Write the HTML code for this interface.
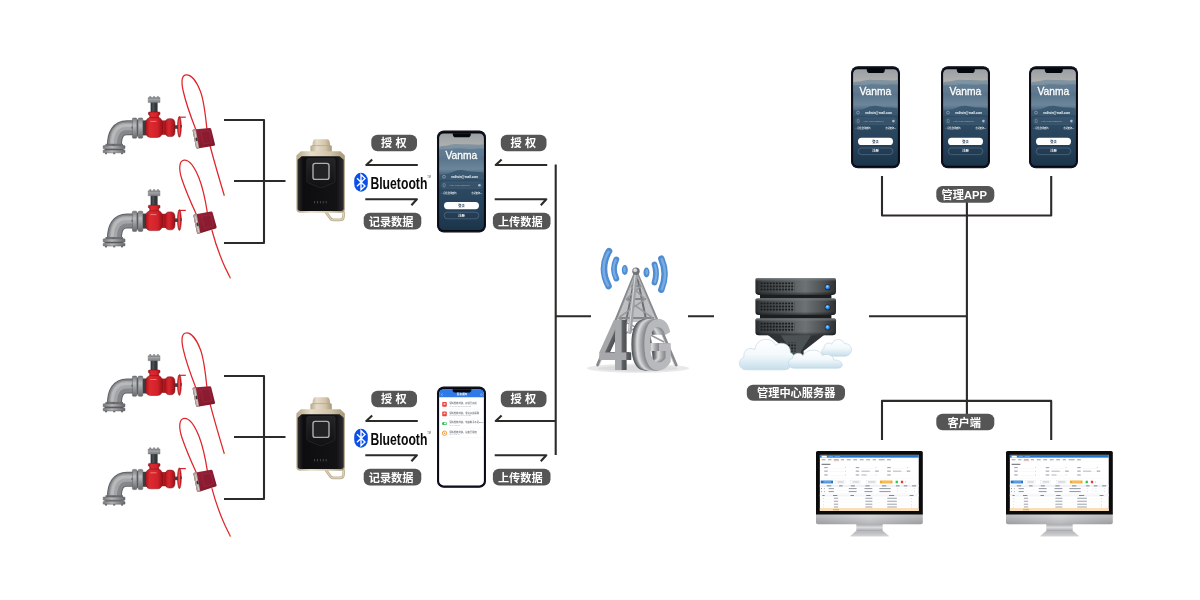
<!DOCTYPE html>
<html lang="zh-CN">
<head>
<meta charset="utf-8">
<title>系统拓扑</title>
<style>
html,body{margin:0;padding:0;background:#fff;}
body{width:1200px;height:600px;overflow:hidden;position:relative;font-family:"Liberation Sans","Noto Sans CJK SC",sans-serif;}
svg{position:absolute;left:0;top:0;display:block;will-change:transform;}
.ln{stroke:#2c2b28;stroke-width:2.1;fill:none;stroke-linejoin:round;}
.bg{fill:#555555;}
.bt{fill:#ffffff;font-family:"Liberation Sans","Noto Sans CJK SC",sans-serif;font-weight:700;font-size:11.2px;text-anchor:middle;}
</style>
</head>
<body>
<svg width="1200" height="600" viewBox="0 0 1200 600">
<defs>

<linearGradient id="gGreyV" x1="0" y1="0" x2="0" y2="1"><stop offset="0" stop-color="#77797c"/><stop offset=".35" stop-color="#b9bbbd"/><stop offset="1" stop-color="#66686b"/></linearGradient>
<linearGradient id="gGreyH" x1="0" y1="0" x2="1" y2="0"><stop offset="0" stop-color="#77797c"/><stop offset=".4" stop-color="#b4b6b8"/><stop offset="1" stop-color="#66686b"/></linearGradient>
<linearGradient id="gRedH" x1="0" y1="0" x2="1" y2="0"><stop offset="0" stop-color="#a3141a"/><stop offset=".25" stop-color="#dc2a30"/><stop offset=".7" stop-color="#d3222a"/><stop offset="1" stop-color="#9a1217"/></linearGradient>
<linearGradient id="gRedH2" x1="0" y1="0" x2="1" y2="0"><stop offset="0" stop-color="#b2181e"/><stop offset=".4" stop-color="#da272e"/><stop offset="1" stop-color="#96111a"/></linearGradient>

<!-- pipe + valve (coords are those of the first instance) -->
<g id="pipe">
  <!-- elbow -->
  <path d="M133 127.8H127Q114.4 127.8 114.4 146" fill="none" stroke="#5f6164" stroke-width="15"/>
  <path d="M133 127.8H127Q114.4 127.8 114.4 146" fill="none" stroke="#85878a" stroke-width="13"/>
  <path d="M133 126.6H126.5Q113.2 126.6 113.2 146" fill="none" stroke="#a3a5a8" stroke-width="7.5"/>
  <path d="M133 125.6H126Q112.2 125.6 112.2 146" fill="none" stroke="#b7b9bb" stroke-width="3"/>
  <!-- bottom flange -->
  <rect x="105.5" y="143.8" width="17.5" height="2.4" fill="#6c6e71"/>
  <rect x="103.2" y="145.6" width="21.8" height="3.2" rx=".6" fill="url(#gGreyH)" stroke="#5d5f62" stroke-width=".5"/>
  <rect x="104.6" y="148.8" width="19" height="1.4" fill="#5a5c5f"/>
  <rect x="103.2" y="150" width="21.8" height="2.8" rx=".6" fill="url(#gGreyH)" stroke="#5d5f62" stroke-width=".5"/>
  <rect x="105" y="152.6" width="2" height="1.6" fill="#6a6c6f"/><rect x="113.2" y="152.6" width="2" height="1.6" fill="#6a6c6f"/><rect x="121" y="152.6" width="2" height="1.6" fill="#6a6c6f"/>
  <rect x="112.8" y="144.4" width="1.2" height="1.4" fill="#5d5f62"/>
  <!-- side flange -->
  <rect x="132.4" y="118" width="4.4" height="20.2" rx="1" fill="url(#gGreyV)" stroke="#5d5f62" stroke-width=".5"/>
  <rect x="136.8" y="119.5" width="1.4" height="17" fill="#5a5c5f"/>
  <rect x="138.2" y="118" width="4.6" height="20.2" rx="1" fill="url(#gGreyV)" stroke="#5d5f62" stroke-width=".5"/>
  <rect x="131.4" y="126.6" width="1.4" height="2" fill="#6a6c6f"/>
  <!-- dark gap -->
  <rect x="142.8" y="120.4" width="4" height="15" fill="#3b3f43"/>
  <!-- top cap + stem -->
  <rect x="150.6" y="102" width="7" height="11" fill="#33373b"/>
  <rect x="152.2" y="102" width="2.2" height="11" fill="#4a4f54"/>
  <path d="M148.2 102.6V97.6H149.6V96.4H151V97.6H153.4V96.4H154.8V97.6H157.2V96.4H158.6V97.6H160V102.6Z" fill="#8b8d90" stroke="#66686b" stroke-width=".4"/>
  <rect x="148.2" y="99.2" width="11.8" height="1" fill="#a9abad"/>
  <!-- red neck -->
  <path d="M148.4 112.8Q148.4 112 149.4 112H159Q160 112 160 112.8V114Q160 114.9 158.9 115.1Q158.4 116.6 158.9 118.4H149.6Q150.1 116.6 149.5 115.1Q148.4 114.9 148.4 114Z" fill="url(#gRedH)" stroke="#7f0d12" stroke-width=".5"/>
  <!-- waist -->
  <rect x="161.6" y="120.8" width="4.2" height="13.8" fill="#b5191f" stroke="#7f0d12" stroke-width=".4"/>
  <!-- red body -->
  <path d="M149.6 117.6H158.9C161.4 118.4 162.5 121 162.5 124.5V131C162.5 134.8 160.6 137.4 157.4 137.4H150.8C147.4 137.4 145.4 134.8 145.4 131V124.5C145.4 121 146.8 118.4 149.6 117.6Z" fill="url(#gRedH)" stroke="#7f0d12" stroke-width=".5"/>
  <path d="M150.4 121.4H156.4" stroke="#f3a0a2" stroke-width=".7" fill="none"/>
  <!-- second bulb -->
  <path d="M165 124C165 120.6 166.6 118.7 169 118.7H171.4C173.8 118.7 175 120.8 175 124V131.4C175 134.6 173.8 136.6 171.4 136.6H169C166.6 136.6 165 134.8 165 131.4Z" fill="url(#gRedH2)" stroke="#7f0d12" stroke-width=".5"/>
  <!-- stem to wheel -->
  <rect x="174.8" y="125.2" width="3.2" height="3.6" fill="#3b3f43"/>
  <!-- hand wheel -->
  <ellipse cx="179.4" cy="126.8" rx="1.95" ry="10.5" fill="#cf2027" stroke="#8e1015" stroke-width=".5"/>
  <ellipse cx="179.2" cy="126.8" rx=".8" ry="8.4" fill="#e9575b"/>
  <path d="M179.8 117.2H185.8" stroke="#d3222a" stroke-width="1.2" fill="none"/>
  <rect x="180.6" y="125" width="1.1" height="2.6" fill="#3b3f43"/>
</g>


<linearGradient id="gLock" x1="0" y1="0" x2="1" y2="1"><stop offset="0" stop-color="#9a2238"/><stop offset="1" stop-color="#7c1628"/></linearGradient>
<!-- seal A (first instance coords) -->
<g id="sealA">
  <path d="M196 130C192.5 121 186 104 183.2 91C180.8 80.5 182 75 186.3 74.8C191 74.6 196.5 81 200.5 91.5C203.5 99.5 205.6 116 206.9 129" fill="none" stroke="#e0242b" stroke-width="1.25" stroke-linecap="round"/>
  <path d="M210 145.5C213 157 219 178 224.2 195.2" fill="none" stroke="#e0242b" stroke-width="1.25" stroke-linecap="round"/>
  <path d="M223.9 194.2L224.4 195.8" stroke="#c9a227" stroke-width="1.1" fill="none"/>
  <path d="M192.6 130.6Q192.4 129.6 193.6 129.4L209.6 128Q210.9 127.9 211.2 129L215 144.2Q215.3 145.4 214 145.7L197.6 148.6Q196.3 148.8 196 147.6Z" fill="url(#gLock)"/>
  <path d="M192.6 130.6Q192.4 129.6 193.6 129.4L195.8 129.2L199.2 148.3L197.6 148.6Q196.3 148.8 196 147.6Z" fill="#a9a39c"/>
  <path d="M194.2 131.2L195.2 131.1L198 146.6L197 146.8Z" fill="#d8d4ce"/>
  <ellipse cx="196.6" cy="139.4" rx="1" ry="2" fill="#3b3535" transform="rotate(-10 196.6 139.4)"/>
  <path d="M201 131.6L209.2 130.8L212 142.6L203.4 144.2Z" fill="#8a1b31" stroke="#a3304a" stroke-width=".5"/>
</g>
<!-- seal B (second instance coords) -->
<g id="sealB">
  <path d="M196.6 215C192 205 185.5 190 181.8 179C178.6 169 179 161 184 160.2C189 159.6 194.5 167 199 178C202.5 187 205.4 200 207.4 213" fill="none" stroke="#e0242b" stroke-width="1.25" stroke-linecap="round"/>
  <path d="M212 230.5C214.5 240 219 254 225.3 267.9L230.2 277.8" fill="none" stroke="#e0242b" stroke-width="1.25" stroke-linecap="round"/>
  <path d="M229.6 276.6L230.4 278.2" stroke="#c9a227" stroke-width="1.1" fill="none"/>
  <path d="M193.4 215.8Q193.1 214.8 194.3 214.5L211 211.6Q212.2 211.4 212.6 212.6L216.6 226.8Q216.9 228 215.7 228.4L198.6 233.8Q197.4 234.1 197 233Z" fill="url(#gLock)"/>
  <path d="M193.4 215.8Q193.1 214.8 194.3 214.5L196.6 214.1L200.4 233.2L198.6 233.8Q197.4 234.1 197 233Z" fill="#a9a39c"/>
  <path d="M195 216.4L196 216.2L199.2 231.6L198.2 231.9Z" fill="#d8d4ce"/>
  <ellipse cx="197.6" cy="224.4" rx="1" ry="2" fill="#3b3535" transform="rotate(-12 197.6 224.4)"/>
  <path d="M202 216.4L210.6 214.8L213.6 225.8L204.6 228.6Z" fill="#8a1b31" stroke="#a3304a" stroke-width=".5"/>
</g>


<linearGradient id="gGold" x1="0" y1="0" x2="1" y2="0"><stop offset="0" stop-color="#b7a88c"/><stop offset=".3" stop-color="#e6dcc8"/><stop offset=".7" stop-color="#d2c4aa"/><stop offset="1" stop-color="#a89878"/></linearGradient>
<linearGradient id="gBlk" x1="0" y1="0" x2="1" y2="0"><stop offset="0" stop-color="#2c2c2e"/><stop offset=".12" stop-color="#0d0d0f"/><stop offset=".85" stop-color="#131315"/><stop offset="1" stop-color="#303033"/></linearGradient>
<linearGradient id="gBlkV" x1="0" y1="0" x2="0" y2="1"><stop offset="0" stop-color="#242427"/><stop offset="1" stop-color="#111113"/></linearGradient>
<!-- smart lock device (first instance coords) -->
<g id="dev">
  <path d="M325.6 211.6L330.4 218.4Q331.4 219.8 333.2 219.8H340.2Q343.2 219.8 343.5 216.8L343.8 211.6" fill="none" stroke="#bfb094" stroke-width="2.7" stroke-linejoin="round"/>
  <path d="M325.6 211.6L330.4 218.4Q331.4 219.8 333.2 219.8H340.2Q343.2 219.8 343.5 216.8L343.8 211.6" fill="none" stroke="#e2d8c4" stroke-width="1" stroke-linejoin="round"/>
  <path d="M312.6 145Q312.6 139.2 315.4 139.2H327Q330 139.2 330 145L331.8 146V152.4H310.4V146Z" fill="url(#gGold)"/>
  <path d="M312.4 145.6H330.2" stroke="#b3a385" stroke-width=".7" fill="none"/>
  <path d="M300.8 151.2H340.4L344.8 155.4V209Q344.8 212.8 341 212.8H300.2Q296.4 212.8 296.4 209V155.4Z" fill="url(#gGold)"/>
  <path d="M301.6 156.2H339.6L343.7 159.8V208.2Q343.7 210.9 341 210.9H300.4Q297.6 210.9 297.6 208.2V159.8Z" fill="url(#gBlk)"/>
  <path d="M306.8 160Q306.8 158.6 308.4 158.6H333.4Q335 158.6 335 160V180.6Q335 182.4 333 183.2L322.4 187.4Q320.9 187.9 319.4 187.4L308.8 183.2Q306.8 182.4 306.8 180.6Z" fill="url(#gBlkV)" stroke="#34343a" stroke-width=".5"/>
  <rect x="313" y="163.4" width="16" height="16" rx="2.2" fill="#232325" stroke="#aeaeb1" stroke-width="1.4"/>
  <path d="M314.6 201V203.4M317.5 201V203.4M320.4 201V203.4M323.3 201V203.4M326.2 201V203.4" stroke="#47474c" stroke-width="1" fill="none"/>
</g>


<g id="bt">
  <rect x="354.2" y="172.7" width="13.6" height="19" rx="6.8" ry="8" fill="#0a4fe8"/>
  <path d="M357 178.2L365 186L361 189.8V174.6L365 178.4L357 186.2" fill="none" stroke="#ffffff" stroke-width="1.35" stroke-linejoin="miter"/>
  <text transform="translate(370.4 188.6) scale(.706 1)" font-family="'Liberation Sans',sans-serif" font-weight="700" font-size="17.3" fill="#0a0a0a">Bluetooth</text>
  <text x="427.2" y="178.2" font-family="'Liberation Sans',sans-serif" font-size="2.6" fill="#555">TM</text>
</g>


<linearGradient id="gScr" x1="0" y1="0" x2="0" y2="1">
  <stop offset="0" stop-color="#9a9fa2"/><stop offset=".08" stop-color="#a6aaab"/><stop offset=".135" stop-color="#b1b1ad"/>
  <stop offset=".15" stop-color="#6f8698"/><stop offset=".26" stop-color="#5a758b"/><stop offset=".37" stop-color="#6c859a"/>
  <stop offset=".43" stop-color="#496780"/><stop offset=".47" stop-color="#385670"/><stop offset=".58" stop-color="#2c4961"/><stop offset=".78" stop-color="#25415a"/><stop offset="1" stop-color="#1b3449"/>
</linearGradient>
<clipPath id="cpScr"><rect x="2.1" y="3" width="44.8" height="96.6" rx="4.4"/></clipPath>
<!-- phone: login screen (origin = top-left of phone, 49 x 102) -->
<g id="phA">
  <rect x="0" y="0" width="49" height="102" rx="6.8" fill="#070a16"/>
  <rect x=".5" y=".5" width="48" height="101" rx="6.4" fill="#141b30"/>
  <rect x="1.2" y="1.4" width="46.6" height="99.4" rx="5.6" fill="#05070f"/>
  <rect x="2.1" y="3" width="44.8" height="96.6" rx="4.4" fill="url(#gScr)"/>
  <g clip-path="url(#cpScr)">
    <path d="M1 16.6C5 15.2 9 15.8 13 14.4C18 12.8 24 14.2 29 13.8C35 13.4 42 15.2 48 13.6V19H1Z" fill="#7b90a0" opacity=".9"/>
    <path d="M1 20C7 18 12 19.6 18 18.2C25 16.8 32 19.4 38 18.4C42 17.8 45 18.6 48 18.2V26H1Z" fill="#5f7a90" opacity=".75"/>
    <path d="M1 45C6 43.4 10 44 15 41.8C20 39.6 24 39 29 40.4C35 42 42 40.8 48 42.6V52H1Z" fill="#3a5871" opacity=".95"/>
    <path d="M1 50C10 48 18 51 26 49C34 47.4 41 50 48 48.6V58H1Z" fill="#2e4b64" opacity=".9"/>
  </g>
  <path d="M15.8 2.8H33.8V3.8Q33.8 6.9 30.8 6.9H18.8Q15.8 6.9 15.8 3.8Z" fill="#05070f"/>
  <text transform="translate(24.4 29) scale(.97 1)" text-anchor="middle" font-family="'Liberation Sans',sans-serif" font-size="10.6" fill="#ffffff" stroke="#ffffff" stroke-width=".28">Vanma</text>
  <circle cx="7" cy="46.4" r="1.4" fill="none" stroke="#c6d0d8" stroke-width=".45"/>
  <text x="27.6" y="47.5" text-anchor="middle" font-family="'Liberation Sans',sans-serif" font-weight="700" font-size="3.1" fill="#f2f5f7">nailwin@mail.com</text>
  <rect x="4" y="51.6" width="41.4" height="6.6" rx="3.3" fill="#3f5b73" opacity=".5" stroke="#6d8598" stroke-width=".35"/>
  <rect x="6.2" y="53.2" width="2" height="3.2" rx=".6" fill="none" stroke="#b9c6d0" stroke-width=".4"/>
  <text x="22.6" y="55.8" text-anchor="middle" font-family="'Liberation Sans',sans-serif" font-size="2.2" fill="#9fb1bf">enter login password</text>
  <circle cx="42.4" cy="54.9" r="1.3" fill="#aebbc6"/>
  <text x="4.4" y="63.2" font-family="'Liberation Sans','Noto Sans CJK SC',sans-serif" font-weight="700" font-size="2.2" fill="#dfe7ed">□ 记住登录密码</text>
  <text x="44.6" y="63.2" text-anchor="end" font-family="'Liberation Sans','Noto Sans CJK SC',sans-serif" font-weight="700" font-size="2.2" fill="#dfe7ed">忘记密码?</text>
  <rect x="7" y="71.6" width="35" height="7.2" rx="3.6" fill="#ffffff"/>
  <text x="24.5" y="76.4" text-anchor="middle" font-family="'Liberation Sans','Noto Sans CJK SC',sans-serif" font-weight="700" font-size="3.2" fill="#2c4256">登录</text>
  <rect x="7.2" y="81.8" width="34.6" height="6.6" rx="3.3" fill="none" stroke="#7e95a6" stroke-width=".4"/>
  <text x="24.5" y="86.3" text-anchor="middle" font-family="'Liberation Sans','Noto Sans CJK SC',sans-serif" font-weight="700" font-size="3.2" fill="#ffffff">注册</text>
</g>

<!-- phone: list screen -->
<g id="phB">
  <rect x="0" y="0" width="49" height="101.4" rx="6.8" fill="#070a16"/>
  <rect x=".5" y=".5" width="48" height="100.4" rx="6.4" fill="#141b30"/>
  <rect x="1.2" y="1.4" width="46.6" height="98.8" rx="5.6" fill="#05070f"/>
  <rect x="2.1" y="3" width="44.8" height="96" rx="4.4" fill="#ffffff"/>
  <path d="M2.1 10.8V7.4Q2.1 3 6.5 3H42.5Q46.9 3 46.9 7.4V10.8Z" fill="#2f7ae6"/>
  <path d="M15.6 2.8H34.4V3.4Q34.4 6.2 31.6 6.2H18.4Q15.6 6.2 15.6 3.4Z" fill="#05070f"/>
  <path d="M5.4 7.2L4.4 8.2L5.4 9.2" fill="none" stroke="#ffffff" stroke-width=".5"/>
  <text x="25" y="9" text-anchor="middle" font-family="'Liberation Sans','Noto Sans CJK SC',sans-serif" font-weight="700" font-size="2.6" fill="#ffffff">消息通知</text>
  <circle cx="44.4" cy="8.2" r=".9" fill="none" stroke="#dbe8fb" stroke-width=".35"/>
  <g font-family="'Liberation Sans','Noto Sans CJK SC',sans-serif">
    <rect x="5.2" y="15.7" width="4.6" height="4.6" rx=".8" fill="#e8463d"/><rect x="6.6" y="16.8" width="1.8" height="1.5" fill="#fff" opacity=".85"/>
    <text x="12.2" y="17.7" font-weight="700" font-size="2.3" fill="#7a8088">消防栓施封锁，开锁已完成</text>
    <text x="12.2" y="20.3" font-size="2" fill="#a3a8b0">07-15 10:32  07-15 10:32</text>
    <path d="M4 22.7H45.4" stroke="#eceef1" stroke-width=".35"/>
    <rect x="5.2" y="25.2" width="4.6" height="4.6" rx=".8" fill="#e8463d"/><rect x="6.6" y="26.3" width="1.8" height="1.5" fill="#fff" opacity=".85"/>
    <text x="12.2" y="27.2" font-weight="700" font-size="2.3" fill="#7a8088">消防栓施封锁，非法开锁报警</text>
    <text x="12.2" y="29.8" font-size="2" fill="#a3a8b0">07-15 09:17  07-15 09:21</text>
    <path d="M4 32.4H45.4" stroke="#eceef1" stroke-width=".35"/>
    <rect x="5" y="35.5" width="5" height="3" rx="1.5" fill="#2fc05b"/><rect x="7" y="36.2" width="2.3" height="1.6" rx=".6" fill="#fff"/>
    <text x="12.2" y="36.9" font-weight="700" font-size="2.3" fill="#7a8088">消防栓施封锁，电量剩余不足20%</text>
    <text x="12.2" y="39.5" font-size="2" fill="#a3a8b0">07-14 16:05</text>
    <path d="M4 42H45.4" stroke="#eceef1" stroke-width=".35"/>
    <circle cx="7.5" cy="46.8" r="2.2" fill="none" stroke="#f0932c" stroke-width=".9"/><path d="M6.9 45.7L8.6 46.8L6.9 47.9Z" fill="#f0932c"/>
    <text x="12.2" y="46.4" font-weight="700" font-size="2.3" fill="#7a8088">消防栓施封锁，设备已授权</text>
    <text x="12.2" y="49" font-size="2" fill="#a3a8b0">07-14 08:40</text>
    <path d="M4 51.3H45.4" stroke="#eceef1" stroke-width=".35"/>
  </g>
</g>


<linearGradient id="gSrv" x1="0" y1="0" x2="1" y2="0"><stop offset="0" stop-color="#26292b"/><stop offset=".08" stop-color="#3d4143"/><stop offset=".48" stop-color="#5e6366"/><stop offset=".62" stop-color="#6d7275"/><stop offset=".86" stop-color="#4a4e50"/><stop offset="1" stop-color="#2c2f31"/></linearGradient>
<linearGradient id="gSrvT" x1="0" y1="0" x2="0" y2="1"><stop offset="0" stop-color="#7a7f81" stop-opacity=".9"/><stop offset=".18" stop-color="#7a7f81" stop-opacity="0"/><stop offset=".8" stop-color="#000" stop-opacity="0"/><stop offset="1" stop-color="#000" stop-opacity=".45"/></linearGradient>
<linearGradient id="gCloud" x1="0" y1="0" x2="0" y2="1"><stop offset="0" stop-color="#ffffff"/><stop offset=".5" stop-color="#f4f9fc"/><stop offset="1" stop-color="#c5deeb"/></linearGradient>
<radialGradient id="gLed" cx=".4" cy=".35" r=".7"><stop offset="0" stop-color="#bfe3ff"/><stop offset=".4" stop-color="#3a9bf7"/><stop offset="1" stop-color="#0c58c9"/></radialGradient>
<pattern id="pVent" x="760.2" y="282" width="3.05" height="3.1" patternUnits="userSpaceOnUse"><rect x=".4" y=".4" width="1.9" height="1.7" rx=".4" fill="#151718"/></pattern>
<g id="tier">
  <path d="M757 278.3H834.4Q836 278.3 836 280V291.6Q836 294.9 832.6 294.9H758.8Q755.4 294.9 755.4 291.6V280Q755.4 278.3 757 278.3Z" fill="url(#gSrv)"/>
  <path d="M757 278.3H834.4Q836 278.3 836 280V291.6Q836 294.9 832.6 294.9H758.8Q755.4 294.9 755.4 291.6V280Q755.4 278.3 757 278.3Z" fill="url(#gSrvT)"/>
  <rect x="760.2" y="282" width="34.2" height="9.3" fill="url(#pVent)"/>
  <circle cx="827.7" cy="287.2" r="2.9" fill="#1e2224"/>
  <circle cx="827.7" cy="287.2" r="2.4" fill="url(#gLed)"/>
</g>


<linearGradient id="gChin" x1="0" y1="0" x2="0" y2="1"><stop offset="0" stop-color="#dcddde"/><stop offset=".25" stop-color="#cfd0d2"/><stop offset="1" stop-color="#acadb0"/></linearGradient>
<linearGradient id="gChinH" x1="0" y1="0" x2="1" y2="0"><stop offset="0" stop-color="#000" stop-opacity=".1"/><stop offset=".5" stop-color="#fff" stop-opacity=".12"/><stop offset="1" stop-color="#000" stop-opacity=".1"/></linearGradient>
<linearGradient id="gNeck" x1="0" y1="0" x2="0" y2="1"><stop offset="0" stop-color="#a2a3a6"/><stop offset=".5" stop-color="#d9dadc"/><stop offset="1" stop-color="#9c9da0"/></linearGradient>
<linearGradient id="gBase" x1="0" y1="0" x2="0" y2="1"><stop offset="0" stop-color="#b4b5b8"/><stop offset=".8" stop-color="#cfd0d2"/><stop offset="1" stop-color="#e9eaeb"/></linearGradient>
<!-- monitor: origin top-left, 106.8 x 86 -->
<g id="mon">
  <rect x="40.3" y="72.6" width="26.4" height="7.9" fill="url(#gNeck)"/>
  <path d="M39.7 80.3H67.3L73 85Q73.2 85.8 72.2 85.8H35Q34 85.8 34.3 85Z" fill="url(#gBase)"/>
  <path d="M0 62H106.8V71.2Q106.8 73.2 104.8 73.2H2Q0 73.2 0 71.2Z" fill="url(#gChin)"/>
  <path d="M0 62H106.8V71.2Q106.8 73.2 104.8 73.2H2Q0 73.2 0 71.2Z" fill="url(#gChinH)"/>
  <path d="M1.6 0H105.2Q106.8 0 106.8 1.6V63.4H0V1.6Q0 0 1.6 0Z" fill="#0b0b0c"/>
  <rect x="3.85" y="3.85" width="98.9" height="56.1" fill="#ffffff"/>
  <g>
    <rect x="3.85" y="4.03" width="98.86" height="2.62" fill="#1f76cf"/>
    <rect x="5.6" y="4.73" width="5.25" height="1.92" fill="#ffffff"/>
    <rect x="12.6" y="4.9" width="4.37" height="1.57" fill="#5aa2e6"/>
    <rect x="18.73" y="4.9" width="5.25" height="1.57" fill="#5aa2e6"/>
    <rect x="5.6" y="8.23" width="3.85" height="1.05" fill="#9aa0aa"/>
    <rect x="12.25" y="8.23" width="3.15" height="1.05" fill="#9aa0aa"/>
    <rect x="17.85" y="8.23" width="4.9" height="1.05" fill="#9aa0aa"/>
    <rect x="17.5" y="9.8" width="5.6" height="0.26" fill="#e04646"/>
    <rect x="24.85" y="8.23" width="3.15" height="1.05" fill="#9aa0aa"/>
    <rect x="30.8" y="8.23" width="3.85" height="1.05" fill="#9aa0aa"/>
    <rect x="37.27" y="8.23" width="3.85" height="1.05" fill="#9aa0aa"/>
    <rect x="43.75" y="8.23" width="3.85" height="1.05" fill="#9aa0aa"/>
    <rect x="50.22" y="8.23" width="3.85" height="1.05" fill="#9aa0aa"/>
    <rect x="56.7" y="8.23" width="3.15" height="1.05" fill="#9aa0aa"/>
    <rect x="62.65" y="8.23" width="5.95" height="1.05" fill="#9aa0aa"/>
    <rect x="71.04" y="8.23" width="3.85" height="1.05" fill="#9aa0aa"/>
    <rect x="3.85" y="10.5" width="98.86" height="0.17" fill="#e6e9ee"/>
    <rect x="5.6" y="12.78" width="8.75" height="1.05" fill="#666c76"/>
    <rect x="8.23" y="16.1" width="3.5" height="1.05" fill="#9aa0aa"/>
    <rect x="13.48" y="17.33" width="14.87" height="0.17" fill="#d4d8de"/>
    <rect x="29.05" y="16.28" width="0.7" height="0.7" fill="#9aa0a8"/>
    <rect x="39.72" y="16.1" width="3.5" height="1.05" fill="#9aa0aa"/>
    <rect x="44.97" y="17.33" width="14.0" height="0.17" fill="#d4d8de"/>
    <rect x="59.67" y="16.28" width="0.7" height="0.7" fill="#9aa0a8"/>
    <rect x="71.22" y="16.1" width="3.5" height="1.05" fill="#9aa0aa"/>
    <rect x="76.47" y="17.33" width="14.0" height="0.17" fill="#d4d8de"/>
    <rect x="91.17" y="16.28" width="0.7" height="0.7" fill="#9aa0a8"/>
    <rect x="8.23" y="19.6" width="3.5" height="1.05" fill="#9aa0aa"/>
    <rect x="13.48" y="20.83" width="14.87" height="0.17" fill="#d4d8de"/>
    <rect x="29.05" y="19.78" width="0.7" height="0.7" fill="#9aa0a8"/>
    <rect x="39.72" y="19.6" width="3.5" height="1.05" fill="#9aa0aa"/>
    <rect x="44.97" y="20.83" width="14.0" height="0.17" fill="#d4d8de"/>
    <rect x="59.67" y="19.78" width="0.7" height="0.7" fill="#9aa0a8"/>
    <rect x="45.5" y="19.69" width="8.22" height="0.87" fill="#a7adb5"/>
    <rect x="59.32" y="19.6" width="3.5" height="1.05" fill="#9aa0aa"/>
    <rect x="71.22" y="19.6" width="3.5" height="1.05" fill="#9aa0aa"/>
    <rect x="76.47" y="20.83" width="14.0" height="0.17" fill="#d4d8de"/>
    <rect x="91.17" y="19.78" width="0.7" height="0.7" fill="#9aa0a8"/>
    <rect x="76.99" y="19.69" width="8.22" height="0.87" fill="#a7adb5"/>
    <rect x="90.82" y="19.6" width="3.5" height="1.05" fill="#9aa0aa"/>
    <rect x="8.23" y="23.45" width="3.5" height="1.05" fill="#9aa0aa"/>
    <rect x="13.48" y="24.68" width="14.87" height="0.17" fill="#d4d8de"/>
    <rect x="29.05" y="23.63" width="0.7" height="0.7" fill="#9aa0a8"/>
    <rect x="39.72" y="23.45" width="3.5" height="1.05" fill="#9aa0aa"/>
    <rect x="44.97" y="24.68" width="14.0" height="0.17" fill="#d4d8de"/>
    <rect x="59.67" y="23.63" width="0.7" height="0.7" fill="#9aa0a8"/>
    <rect x="45.5" y="23.54" width="5.07" height="0.87" fill="#a7adb5"/>
    <rect x="71.22" y="23.45" width="3.5" height="1.05" fill="#9aa0aa"/>
    <rect x="3.85" y="27.13" width="98.86" height="0.17" fill="#e6e9ee"/>
    <rect x="4.73" y="29.57" width="12.25" height="2.8" fill="#1f76cf"/>
    <rect x="7.35" y="30.62" width="7.87" height="0.7" fill="#cfe3f7"/>
    <rect x="19.6" y="29.57" width="9.62" height="2.8" fill="#ffffff" stroke="#d0d5dc" stroke-width=".25"/>
    <rect x="21.35" y="30.62" width="6.47" height="0.7" fill="#9aa0aa"/>
    <rect x="34.82" y="29.57" width="9.8" height="2.8" fill="#ffffff" stroke="#d0d5dc" stroke-width=".25"/>
    <rect x="36.57" y="30.62" width="6.65" height="0.7" fill="#9aa0aa"/>
    <rect x="50.22" y="29.57" width="10.5" height="2.8" fill="#ffffff" stroke="#d0d5dc" stroke-width=".25"/>
    <rect x="51.97" y="30.62" width="7.35" height="0.7" fill="#9aa0aa"/>
    <rect x="63.87" y="29.57" width="12.6" height="2.8" fill="#f5a524"/>
    <rect x="65.97" y="30.62" width="8.75" height="0.7" fill="#fde3b5"/>
    <rect x="79.62" y="29.75" width="2.27" height="2.45" fill="#22cc3f"/>
    <rect x="84.87" y="29.75" width="2.27" height="2.45" fill="#e53a35"/>
    <rect x="89.07" y="30.62" width="1.05" height="0.7" fill="#9aa0a8"/>
    <rect x="3.85" y="33.77" width="98.86" height="2.1" fill="#eef1f6"/>
    <rect x="10.85" y="34.39" width="4.37" height="0.96" fill="#7c828c"/>
    <rect x="23.1" y="34.39" width="3.5" height="0.96" fill="#7c828c"/>
    <rect x="34.82" y="34.39" width="4.02" height="0.96" fill="#7c828c"/>
    <rect x="49.35" y="34.39" width="4.37" height="0.96" fill="#7c828c"/>
    <rect x="65.97" y="34.39" width="4.37" height="0.96" fill="#7c828c"/>
    <rect x="79.97" y="34.39" width="3.5" height="0.96" fill="#7c828c"/>
    <rect x="87.84" y="34.39" width="3.5" height="0.96" fill="#7c828c"/>
    <rect x="96.07" y="34.39" width="4.02" height="0.96" fill="#7c828c"/>
    <rect x="3.85" y="39.02" width="98.86" height="0.17" fill="#e3e7ec"/>
    <rect x="5.08" y="37.1" width="0.87" height="1.05" fill="#2f86dd"/>
    <rect x="7.88" y="37.1" width="0.87" height="1.05" fill="#9aa0aa"/>
    <rect x="12.6" y="37.13" width="5.25" height="0.98" fill="#8f95a0"/>
    <rect x="32.72" y="37.13" width="7.87" height="0.98" fill="#8f95a0"/>
    <rect x="48.47" y="37.13" width="7.87" height="0.98" fill="#8f95a0"/>
    <rect x="63.35" y="37.13" width="11.37" height="0.98" fill="#8f95a0"/>
    <rect x="81.37" y="37.36" width="0.7" height="0.52" fill="#a7adb5"/>
    <rect x="89.59" y="37.36" width="0.7" height="0.52" fill="#a7adb5"/>
    <rect x="98.34" y="37.36" width="0.7" height="0.52" fill="#a7adb5"/>
    <rect x="3.85" y="42.0" width="98.86" height="0.17" fill="#e3e7ec"/>
    <rect x="5.08" y="40.07" width="0.87" height="1.05" fill="#9aa0a8"/>
    <rect x="7.88" y="40.07" width="0.87" height="1.05" fill="#9aa0aa"/>
    <rect x="12.6" y="40.11" width="5.25" height="0.98" fill="#8f95a0"/>
    <rect x="32.72" y="40.11" width="7.87" height="0.98" fill="#8f95a0"/>
    <rect x="48.47" y="40.11" width="7.87" height="0.98" fill="#8f95a0"/>
    <rect x="63.35" y="40.11" width="11.37" height="0.98" fill="#8f95a0"/>
    <rect x="81.37" y="40.34" width="0.7" height="0.52" fill="#a7adb5"/>
    <rect x="89.59" y="40.34" width="0.7" height="0.52" fill="#a7adb5"/>
    <rect x="98.34" y="40.34" width="0.7" height="0.52" fill="#a7adb5"/>
    <rect x="3.85" y="43.4" width="98.86" height="2.1" fill="#f3f5f8"/>
    <rect x="6.48" y="44.01" width="2.1" height="0.96" fill="#7c828c"/>
    <rect x="16.98" y="44.01" width="4.37" height="0.96" fill="#7c828c"/>
    <rect x="34.47" y="44.01" width="3.5" height="0.96" fill="#7c828c"/>
    <rect x="50.22" y="44.01" width="4.37" height="0.96" fill="#7c828c"/>
    <rect x="72.97" y="44.01" width="5.25" height="0.96" fill="#7c828c"/>
    <rect x="93.62" y="44.01" width="3.85" height="0.96" fill="#7c828c"/>
    <rect x="3.85" y="48.65" width="98.86" height="0.17" fill="#e9ecf0"/>
    <rect x="7.18" y="46.99" width="0.7" height="0.52" fill="#a7adb5"/>
    <rect x="17.85" y="46.76" width="4.37" height="0.98" fill="#9aa0aa"/>
    <rect x="49.35" y="46.76" width="7.0" height="0.98" fill="#9aa0aa"/>
    <rect x="71.22" y="46.76" width="9.62" height="0.98" fill="#9aa0aa"/>
    <rect x="95.02" y="46.99" width="0.7" height="0.52" fill="#a7adb5"/>
    <rect x="3.85" y="51.62" width="98.86" height="0.17" fill="#e9ecf0"/>
    <rect x="7.18" y="49.96" width="0.7" height="0.52" fill="#a7adb5"/>
    <rect x="17.85" y="49.73" width="4.37" height="0.98" fill="#9aa0aa"/>
    <rect x="49.35" y="49.73" width="7.0" height="0.98" fill="#9aa0aa"/>
    <rect x="71.22" y="49.73" width="9.62" height="0.98" fill="#9aa0aa"/>
    <rect x="95.02" y="49.96" width="0.7" height="0.52" fill="#a7adb5"/>
    <rect x="3.85" y="54.6" width="98.86" height="0.17" fill="#e9ecf0"/>
    <rect x="7.18" y="52.93" width="0.7" height="0.52" fill="#a7adb5"/>
    <rect x="17.85" y="52.71" width="4.37" height="0.98" fill="#9aa0aa"/>
    <rect x="49.35" y="52.71" width="7.0" height="0.98" fill="#9aa0aa"/>
    <rect x="71.22" y="52.71" width="9.62" height="0.98" fill="#9aa0aa"/>
    <rect x="95.02" y="52.93" width="0.7" height="0.52" fill="#a7adb5"/>
    <rect x="3.85" y="57.4" width="98.86" height="0.17" fill="#e9ecf0"/>
    <rect x="7.18" y="55.73" width="0.7" height="0.52" fill="#a7adb5"/>
    <rect x="17.85" y="55.51" width="4.37" height="0.98" fill="#9aa0aa"/>
    <rect x="49.35" y="55.51" width="7.0" height="0.98" fill="#9aa0aa"/>
    <rect x="71.22" y="55.51" width="9.62" height="0.98" fill="#9aa0aa"/>
    <rect x="95.02" y="55.73" width="0.7" height="0.52" fill="#a7adb5"/>
    <rect x="3.85" y="57.57" width="98.86" height="2.27" fill="#fcdcae"/>
    <rect x="3.85" y="57.57" width="98.86" height="0.26" fill="#f4b65a"/>
    <rect x="16.98" y="58.45" width="6.12" height="0.7" fill="#c98d3a"/>
  </g>
</g>


</defs>

<!-- ===== connector lines ===== -->
<g class="ln" id="lines">
  <!-- left brackets -->
  <path d="M224 120H264V243H224M234 181H285.5"/>
  <path d="M224 376H264V499H224M234 437H285.5"/>
  <!-- arrows upper -->
  <path d="M417.8 165H366.3L372.2 159.6M365.3 199.3H416.9L411.4 205.3"/>
  <path d="M547.2 165H495.7L501.6 159.6M494.7 199.3H546.3L540.8 205.3"/>
  <!-- arrows lower -->
  <path d="M417.8 421H366.3L372.2 415.6M365.3 455.3H416.9L411.4 461.3"/>
  <path d="M556 421H495.7L501.6 415.6M494.7 455.3H546.3L540.8 461.3"/>
  <!-- trunk -->
  <path d="M555.7 164.5V455M555.7 316.3H591M688 316.3H714M869 316.3H966.9"/>
  <!-- right tree -->
  <path d="M882 176V215.5H1051.2V176M966.9 202V414M882 440V400.9H1051.2V440"/>
</g>

<!-- ===== badges ===== -->
<g id="badges">
  <rect class="bg" x="371.3" y="134.8" width="45.7" height="16.5" rx="6.2"/><text class="bt" x="395.5" y="147.4" letter-spacing="3.4">授权</text>
  <rect class="bg" x="363.7" y="212.8" width="57.6" height="16.7" rx="6.2"/><text class="bt" x="391.09999999999997" y="225.5">记录数据</text>
  <rect class="bg" x="500.8" y="134.8" width="45.7" height="16.5" rx="6.2"/><text class="bt" x="525.0" y="147.4" letter-spacing="3.4">授权</text>
  <rect class="bg" x="492.9" y="212.8" width="57.6" height="16.7" rx="6.2"/><text class="bt" x="520.3" y="225.5">上传数据</text>
  <rect class="bg" x="371.3" y="390.8" width="45.7" height="16.5" rx="6.2"/><text class="bt" x="395.5" y="403.4" letter-spacing="3.4">授权</text>
  <rect class="bg" x="363.7" y="468.8" width="57.6" height="16.7" rx="6.2"/><text class="bt" x="391.09999999999997" y="481.5">记录数据</text>
  <rect class="bg" x="500.8" y="390.8" width="45.7" height="16.5" rx="6.2"/><text class="bt" x="525.0" y="403.4" letter-spacing="3.4">授权</text>
  <rect class="bg" x="492.9" y="468.8" width="57.6" height="16.7" rx="6.2"/><text class="bt" x="520.3" y="481.5">上传数据</text>
  <rect class="bg" x="746.8" y="384.8" width="98.2" height="16" rx="6.2"/><text class="bt" x="796.2" y="397.1">管理中心服务器</text>
  <rect class="bg" x="936.3" y="186" width="58" height="16.7" rx="6.2"/><text class="bt" x="964.2" y="199">管理APP</text>
  <rect class="bg" x="936.3" y="413.8" width="58" height="16.5" rx="6.2"/><text class="bt" x="964.2" y="426.5">客户端</text>
</g>


<!-- ===== pipes ===== -->
<use href="#pipe"/>
<use href="#pipe" transform="translate(0 93.2)"/>
<use href="#pipe" transform="translate(0 258.1)"/>
<use href="#pipe" transform="translate(0 351.4)"/>


<!-- ===== seals ===== -->
<use href="#sealA"/>
<use href="#sealB"/>
<use href="#sealA" transform="translate(0 258.2)"/>
<use href="#sealB" transform="translate(0 258.2)"/>


<!-- ===== lock devices ===== -->
<use href="#dev"/>
<use href="#dev" transform="translate(0 258)"/>


<!-- ===== bluetooth ===== -->
<use href="#bt"/>
<use href="#bt" transform="translate(0 256)"/>


<!-- ===== phones (login) ===== -->
<use href="#phA" transform="translate(437 130.4)"/>
<use href="#phA" transform="translate(851 66.2)"/>
<use href="#phA" transform="translate(941 66.2)"/>
<use href="#phA" transform="translate(1029 66.2)"/>


<use href="#phB" transform="translate(437 386.4)"/>


<!-- ===== 4G tower ===== -->
<g id="tower">
  <ellipse cx="638" cy="368.2" rx="51" ry="4.6" fill="#e9e9ea"/>
  <ellipse cx="638" cy="368.4" rx="40" ry="3" fill="#dcdcde"/>
  <path d="M636 275L617 322H656Z" fill="#54575a" opacity=".38"/>
  <g fill="none" stroke-linecap="round">
    <path d="M636.6 274L655.5 365" stroke="#6d7073" stroke-width="2"/>
    <path d="M635.4 274L617.5 365" stroke="#6d7073" stroke-width="1.8"/>
    <path d="M626.2 299H645M618.4 318H653M631.6 286H640.6" stroke="#85888b" stroke-width="2.2"/>
    <path d="M631.4 286.4L644.6 298.6M640.4 286.4L626.6 298.6M626.6 299.6L652 317.4M644.6 299.6L619 317.4M619 318.6L664 342M652.4 318.6L610 342" stroke="#96999c" stroke-width="1.6"/>
    <path d="M635 273.5L597.6 365" stroke="#87898c" stroke-width="2.9"/>
    <path d="M637 273.5L676.2 365" stroke="#87898c" stroke-width="2.9"/>
    <path d="M635.6 273.5L599.4 365M636.6 273.5L674.4 365" stroke="#c4c6c8" stroke-width=".8"/>
    <path d="M636 274L629.8 332" stroke="#9fa2a5" stroke-width="3.8"/>
    <path d="M635.2 274L629 332" stroke="#cfd1d3" stroke-width="1.2"/>
  </g>
  <circle cx="636" cy="271.2" r="3.7" fill="#6f7275"/>
  <circle cx="635.2" cy="270.2" r="2" fill="#c9cbcd"/>
  <circle cx="634.8" cy="269.8" r=".9" fill="#f2f2f3"/>
  <!-- waves -->
  <g fill="none" stroke-linecap="round">
    <path d="M609 251.2Q599.2 268 608.5 286" stroke="#4f8cd1" stroke-width="6.6"/>
    <path d="M608.4 251.8Q598.8 268 608 285.4" stroke="#78abe2" stroke-width="2.6"/>
    <path d="M616.3 259.4Q611.6 269 616.3 278.6" stroke="#4f8cd1" stroke-width="5.8"/>
    <path d="M615.8 260Q611.3 269 615.8 278" stroke="#78abe2" stroke-width="2.2"/>
    <path d="M654.5 264.4Q657.6 273.5 654.5 282.6" stroke="#4f8cd1" stroke-width="5.8"/>
    <path d="M654.9 265Q658 273.5 654.9 282" stroke="#78abe2" stroke-width="2.2"/>
    <path d="M661.3 258.6Q668 274 661.3 289.8" stroke="#4f8cd1" stroke-width="6.4"/>
    <path d="M661.8 259.2Q668.4 274 661.8 289.2" stroke="#78abe2" stroke-width="2.5"/>
  </g>
  <ellipse cx="624.8" cy="270" rx="3" ry="5" fill="#4f8cd1"/><ellipse cx="624.5" cy="269.6" rx="1.3" ry="3" fill="#78abe2"/>
  <ellipse cx="646.5" cy="272.5" rx="3" ry="5" fill="#4f8cd1"/><ellipse cx="646.8" cy="272.1" rx="1.3" ry="3" fill="#78abe2"/>
  <!-- 4G -->
  <g font-family="'Liberation Sans',sans-serif" font-weight="700">
  <text transform="translate(603.50 369.50) scale(0.7 1)" font-size="72" fill="#4f5255">4</text>
  <text transform="translate(602.65 369.50) scale(0.7 1)" font-size="72" fill="#525558">4</text>
  <text transform="translate(601.80 369.50) scale(0.7 1)" font-size="72" fill="#56595c">4</text>
  <text transform="translate(600.95 369.50) scale(0.7 1)" font-size="72" fill="#5a5d60">4</text>
  <text transform="translate(600.10 369.50) scale(0.7 1)" font-size="72" fill="#5e6164">4</text>
  <text transform="translate(599.25 369.50) scale(0.7 1)" font-size="72" fill="#626568">4</text>
  <text transform="translate(598.4 369.5) scale(.70 1)" font-size="72" fill="#a6a8ab">4</text>
  <text transform="translate(629.70 369.70) scale(0.546 1)" font-size="71.6" fill="#55585b">G</text>
  <text transform="translate(630.70 369.70) scale(0.546 1)" font-size="71.6" fill="#6a6d70">G</text>
  <text transform="translate(631.70 369.70) scale(0.546 1)" font-size="71.6" fill="#7f8285">G</text>
  <text transform="translate(632.70 369.70) scale(0.546 1)" font-size="71.6" fill="#989b9d">G</text>
  <text transform="translate(633.70 369.70) scale(0.546 1)" font-size="71.6" fill="#b7b9bb">G</text>
  <text transform="translate(634.70 369.70) scale(0.546 1)" font-size="71.6" fill="#d5d7d9">G</text>
  <text transform="translate(635.70 369.70) scale(0.546 1)" font-size="71.6" fill="#d0d2d3">G</text>
  <text transform="translate(636.70 369.70) scale(0.546 1)" font-size="71.6" fill="#c2c4c6">G</text>
  <text transform="translate(637.70 369.70) scale(0.546 1)" font-size="71.6" fill="#b3b5b8">G</text>
  <text transform="translate(638.70 369.70) scale(0.546 1)" font-size="71.6" fill="#a5a7aa">G</text>
  <text transform="translate(639.70 369.70) scale(0.546 1)" font-size="71.6" fill="#9b9da0">G</text>
  <text transform="translate(640.70 369.70) scale(0.546 1)" font-size="71.6" fill="#919396">G</text>
  <text transform="translate(641.70 369.70) scale(0.546 1)" font-size="71.6" fill="#87898c">G</text>
  <text transform="translate(642.7 369.7) scale(.546 1)" font-size="71.6" fill="#b7b9bc">G</text>
  </g>
</g>


<!-- ===== server ===== -->
<g id="server">
  <path d="M766.6 334H825.4L803.6 351V357H788.4V351Z" fill="#2f3335"/>
  <path d="M780 334H812L801 351V357H791V351Z" fill="#4c5153"/>
  <rect x="786.8" y="342.6" width="8.8" height="9" fill="url(#pVent)"/>
  <rect x="760" y="294.5" width="71.4" height="4.2" fill="#1b1d1f"/>
  <rect x="760" y="314.6" width="71.4" height="4.2" fill="#1b1d1f"/>
  <use href="#tier"/>
  <use href="#tier" transform="translate(0 20.1)"/>
  <use href="#tier" transform="translate(0 40.3)"/>
  <!-- clouds -->
  <g stroke="#bcd3e0" stroke-width=".6">
    <path d="M826 356.2C821.4 356.2 819.8 350.4 824 348.4C823.6 343.6 829 341.6 831.8 344.2C833 338.6 842.4 337.6 844.4 343.6C850 343 853.4 349 850.4 353C849.2 355.2 846.6 356.2 844.6 356.2Z" fill="url(#gCloud)"/>
    <path d="M746.4 369.8C738.6 369.8 736.6 360 744 357C742.6 350 750 346.4 755 349.6C755.6 338.6 771 335.4 775.6 345.2C781.4 340.6 791 344.4 790.4 352.6C795.4 354.6 795.4 362 791.4 364.4C790.6 368 787.6 369.8 784 369.8Z" fill="url(#gCloud)"/>
    <path d="M794.4 368.2C787.4 368.2 786.2 359.8 792.4 358.4C792.8 352.8 800.6 351.6 803 355.6C806.4 348.4 819.6 348 822.4 355.4C827.4 352.8 833.8 355.6 833.6 360C840.6 359.4 844.6 364.8 841 367.2C839.8 368 838.6 368.2 837.4 368.2Z" fill="url(#gCloud)"/>
  </g>
</g>


<!-- ===== monitors ===== -->
<use href="#mon" transform="translate(816 451)"/>
<use href="#mon" transform="translate(1006 451)"/>


</svg>
</body>
</html>
